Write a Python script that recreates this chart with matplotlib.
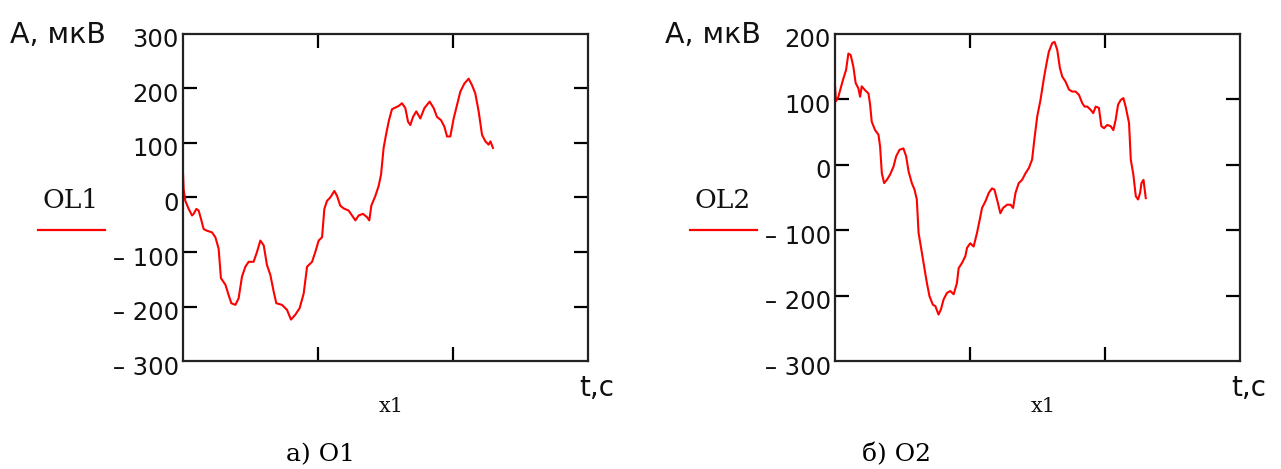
import matplotlib
matplotlib.use("Agg")
import matplotlib.pyplot as plt
import matplotlib.transforms as mtransforms

# ---------------- data ----------------
t1 = [0.000, 0.005, 0.017, 0.042, 0.067, 0.079, 0.099, 0.116, 0.133, 0.153,
      0.178, 0.215, 0.240, 0.264, 0.281, 0.314, 0.338, 0.358, 0.388, 0.412,
      0.437, 0.462, 0.486, 0.523, 0.548, 0.573, 0.598, 0.622, 0.647, 0.672,
      0.691, 0.733, 0.770, 0.800, 0.832, 0.864, 0.894, 0.919, 0.956, 0.980,
      1.005, 1.030, 1.047, 1.067, 1.091, 1.121, 1.141, 1.165, 1.190, 1.227,
      1.252, 1.277, 1.301, 1.333, 1.363, 1.380, 1.395, 1.425, 1.449, 1.467,
      1.486, 1.506, 1.526, 1.548, 1.573, 1.598, 1.622, 1.647, 1.667, 1.684,
      1.704, 1.728, 1.758, 1.788, 1.827, 1.857, 1.881, 1.911, 1.936, 1.956,
      1.980, 2.005, 2.030, 2.054, 2.084, 2.116, 2.141, 2.165, 2.190, 2.215,
      2.240, 2.264, 2.277, 2.296]
ol1 = [45, 15, -6, -21, -33, -30, -21, -24, -39, -58,
       -61, -64, -73, -94, -148, -160, -179, -194, -197, -185,
       -145, -127, -118, -118, -100, -79, -88, -124, -142, -173,
       -194, -197, -206, -224, -215, -203, -176, -127, -118, -100,
       -79, -73, -21, -6, 0, 12, 3, -15, -20, -24,
       -33, -42, -33, -30, -36, -42, -15, 3, 21, 42,
       91, 118, 142, 162, 165, 168, 173, 164, 139, 133,
       148, 158, 145, 164, 176, 164, 148, 142, 130, 112,
       112, 145, 170, 194, 209, 218, 206, 191, 158, 115,
       103, 97, 103, 91]

t2 = [0.000, 0.007, 0.025, 0.042, 0.062, 0.082, 0.099, 0.116, 0.136, 0.153,
      0.173, 0.186, 0.198, 0.223, 0.248, 0.260, 0.272, 0.297, 0.322, 0.334,
      0.347, 0.364, 0.384, 0.408, 0.433, 0.453, 0.478, 0.507, 0.527, 0.545,
      0.569, 0.589, 0.606, 0.619, 0.644, 0.668, 0.681, 0.700, 0.725, 0.743,
      0.767, 0.785, 0.804, 0.829, 0.854, 0.879, 0.903, 0.916, 0.941, 0.965,
      0.978, 1.002, 1.027, 1.052, 1.072, 1.089, 1.114, 1.139, 1.163, 1.181,
      1.200, 1.225, 1.245, 1.275, 1.300, 1.319, 1.337, 1.361, 1.386, 1.411,
      1.436, 1.460, 1.478, 1.498, 1.522, 1.547, 1.567, 1.584, 1.609, 1.626,
      1.646, 1.666, 1.683, 1.708, 1.733, 1.757, 1.782, 1.807, 1.832, 1.849,
      1.869, 1.894, 1.913, 1.931, 1.955, 1.973, 1.993, 2.017, 2.042, 2.062,
      2.079, 2.097, 2.116, 2.136, 2.153, 2.178, 2.191, 2.210, 2.228, 2.245,
      2.260, 2.270, 2.285, 2.302]
ol2 = [122, 97, 104, 117, 132, 145, 170, 168, 150, 125,
       117, 104, 120, 114, 109, 92, 66, 53, 46, 28,
       -13, -28, -23, -15, -3, 13, 23, 25, 13, -10,
       -28, -38, -53, -104, -135, -165, -181, -201, -214, -216,
       -229, -221, -206, -196, -193, -198, -181, -158, -150, -140,
       -127, -120, -125, -104, -84, -66, -56, -43, -36, -38,
       -53, -74, -66, -61, -61, -66, -43, -28, -23, -13,
       -5, 8, 41, 74, 99, 132, 155, 173, 186, 188,
       176, 148, 135, 127, 115, 112, 112, 107, 94, 89,
       89, 84, 79, 89, 87, 59, 56, 61, 59, 53,
       69, 92, 99, 102, 89, 64, 8, -15, -48, -53,
       -43, -28, -23, -51]

yticks1 = [-300, -200, -100, 0, 100, 200, 300]
ylabels1 = ["\u2013 300", "\u2013 200", "\u2013 100", "0", "100", "200", "300"]
yticks2 = [-300, -200, -100, 0, 100, 200]
ylabels2 = ["\u2013 300", "\u2013 200", "\u2013 100", "0", "100", "200"]
xticks = [1, 2]
ylabel_text = "A, мкВ"
xlabel_text = "t,c"
legend1 = "OL1"
legend2 = "OL2"
xname = "x1"
caption1 = "а) O1"
caption2 = "б) O2"

# ---------------- figure ----------------
W, H = 1281, 469
DPI = 100
fig = plt.figure(figsize=(W / DPI, H / DPI), dpi=DPI)
fig.patch.set_facecolor("white")

SANS = ["DejaVu Sans"]
SERIF = ["DejaVu Serif"]
RED = "#ff0000"


def px(x0, y0, w, h):
    return [x0 / W, (H - y0 - h) / H, w / W, h / H]


def make_panel(rect, t, y, ylim, yticks, ylabels, lx, legend, caption, cap_x):
    ax = fig.add_axes(px(*rect))
    ax.plot(t, y, color=RED, lw=1.5)
    ax.set_xlim(0, 3)
    ax.set_ylim(*ylim)
    ax.set_xticks(xticks)
    ax.set_xticklabels([])
    ax.set_yticks(yticks)
    ax.set_yticklabels(ylabels, family=SANS, fontsize=17.5, color="#111111")
    ax.tick_params(axis="y", direction="in", length=10, width=1.6,
                   left=True, right=True, pad=3)
    ax.tick_params(axis="x", direction="in", length=10, width=1.6,
                   top=True, bottom=True)
    for tk in ax.yaxis.get_major_ticks():
        v = tk.get_loc()
        if v in (ylim[0], ylim[1]):
            tk.tick2line.set_visible(False)
            tk.tick1line.set_visible(False)
    offset = mtransforms.ScaledTranslation(0, -4 / DPI, fig.dpi_scale_trans)
    for lab in ax.get_yticklabels():
        lab.set_transform(lab.get_transform() + offset)
    for s in ax.spines.values():
        s.set_linewidth(1.6)
        s.set_color("#222222")
    x0 = rect[0]
    fig.text(lx / W, 1 - 35 / H, ylabel_text, family=SANS, fontsize=20.5,
             ha="left", va="center", color="#111111")
    fig.text((x0 - 112) / W, 1 - 200 / H, legend, family=SERIF, fontsize=19,
             ha="center", va="center", color="#111111")
    fig.add_artist(plt.Line2D([(x0 - 145) / W, (x0 - 78) / W],
                              [1 - 230 / H, 1 - 230 / H],
                              color=RED, lw=1.6))
    fig.text((x0 + 208) / W, 1 - 406 / H, xname, family=SERIF, fontsize=15,
             ha="center", va="center", color="#111111")
    fig.text((x0 + 414) / W, 1 - 388 / H, xlabel_text, family=SANS, fontsize=20,
             ha="center", va="center", color="#111111")
    fig.text(cap_x / W, 1 - 455 / H, caption, family=SERIF, fontsize=18,
             ha="center", va="center", color="black")
    return ax


make_panel((183, 34, 405, 327), t1, ol1, (-300, 300), yticks1, ylabels1,
           10, legend1, caption1, 320)
make_panel((835, 34, 405, 327), t2, ol2, (-300, 200), yticks2, ylabels2,
           665, legend2, caption2, 897)

fig.savefig("out.png", dpi=DPI)
